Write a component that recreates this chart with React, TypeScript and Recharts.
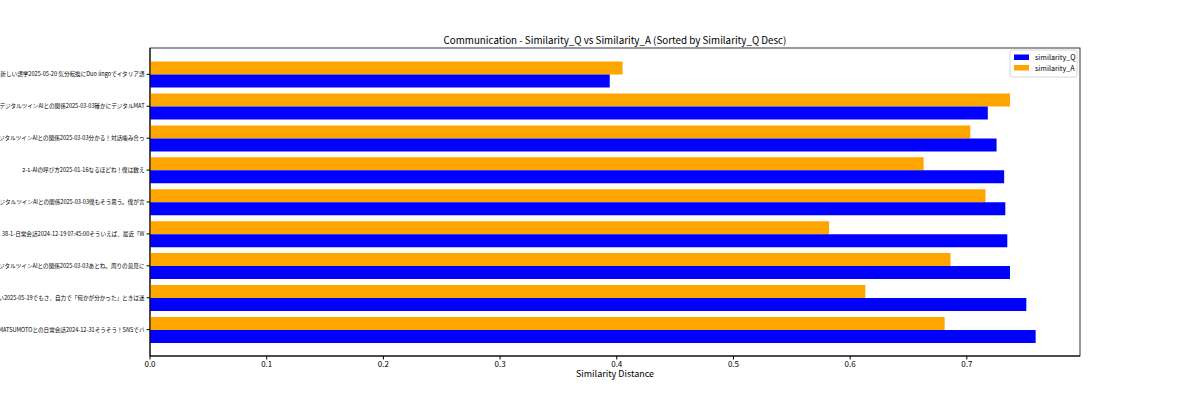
import React from 'react';
import { BarChart, Bar, XAxis, YAxis } from 'recharts';

const categories = [
  '新しい語学2025-05-20 気分転換にDuo lingoでイタリア語',
  'デジタルツインAIとの関係2025-03-03確かにデジタルMAT',
  'デジタルツインAIとの関係2025-03-03分かる！対話噛み合っ',
  '2-1-AIの呼び方2025-01-16なるほどね！僕は数え',
  'デジタルツインAIとの関係2025-03-03僕もそう思う。僕が言',
  '38-1-日常会話2024-12-19 07:45:00そういえば、最近「W',
  'デジタルツインAIとの関係2025-03-03あとね。周りの意見に',
  'い2025-05-19でもさ、自力で「何かが分かった」ときは迷',
  'MATSUMOTOとの日常会話2024-12-31そうそう！SNSでバ',
];
const similarityQ = [0.394, 0.718, 0.7255, 0.732, 0.733, 0.7347, 0.737, 0.751, 0.759];
const similarityA = [0.405, 0.737, 0.703, 0.663, 0.716, 0.582, 0.686, 0.613, 0.681];
const xTicks = [0, 0.1, 0.2, 0.3, 0.4, 0.5, 0.6, 0.7];

const data = categories.map((c, i) => ({ name: c, similarity_Q: similarityQ[i], similarity_A: similarityA[i] }));

const FONT = '"Noto Sans CJK JP", "Noto Sans", sans-serif';

const YTick = (props: any) => {
  const { x, y, payload } = props;
  return (
    <text x={x} y={y} dy={2} textAnchor="end" fontSize={5.6} fill="#000" fontFamily={FONT}>
      {payload.value}
    </text>
  );
};

const Legend = () => (
  <g fontFamily={FONT} fontSize={7.2}>
    <rect x={1010} y={50} width={67} height={27} fill="#fff" stroke="#ccc" strokeWidth={0.8} rx={2} />
    <rect x={1014} y={54.5} width={15} height={5.5} fill="#0000ff" />
    <text x={1035} y={60}>similarity_Q</text>
    <rect x={1014} y={65} width={15} height={5.5} fill="#ffa500" />
    <text x={1035} y={71}>similarity_A</text>
  </g>
);

export default function App() {
  return (
    <div style={{ position: 'absolute', left: 0, top: 0, width: 1200, height: 400, background: '#fff' }}>
      <BarChart
        width={1200}
        height={400}
        data={data}
        layout="vertical"
        margin={{ top: 48, right: 120, bottom: 14, left: 0 }}
        barCategoryGap="10%"
        barGap={0}
      >
        <XAxis
          type="number"
          dataKey="similarity_Q"
          domain={[0, 0.797]}
          ticks={xTicks}
          height={30}
          tickFormatter={(v: number) => v.toFixed(1)}
          tick={{ fontSize: 8, fill: '#000', fontFamily: FONT }}
          tickSize={3.5}
          tickLine={{ stroke: '#000' }}
          axisLine={{ stroke: '#000' }}
          allowDataOverflow
        />
        <YAxis
          type="category"
          dataKey="name"
          width={150}
          padding={{ top: 10.4, bottom: 10.4 }}
          tick={<YTick />}
          tickSize={3.5}
          tickLine={{ stroke: '#000' }}
          axisLine={{ stroke: '#000' }}
          interval={0}
        />
        <Bar dataKey="similarity_A" fill="#ffa500" isAnimationActive={false} />
        <Bar dataKey="similarity_Q" fill="#0000ff" isAnimationActive={false} />
        <rect x={150} y={48} width={930} height={308} fill="none" stroke="#000" strokeWidth={0.8} />
        <text x={615} y={44} textAnchor="middle" fontSize={9.8} fontFamily={FONT} fill="#000">
          Communication - Similarity_Q vs Similarity_A (Sorted by Similarity_Q Desc)
        </text>
        <text x={615} y={377} textAnchor="middle" fontSize={9} fontFamily={FONT} fill="#000">
          Similarity Distance
        </text>
        <Legend />
      </BarChart>
    </div>
  );
}
